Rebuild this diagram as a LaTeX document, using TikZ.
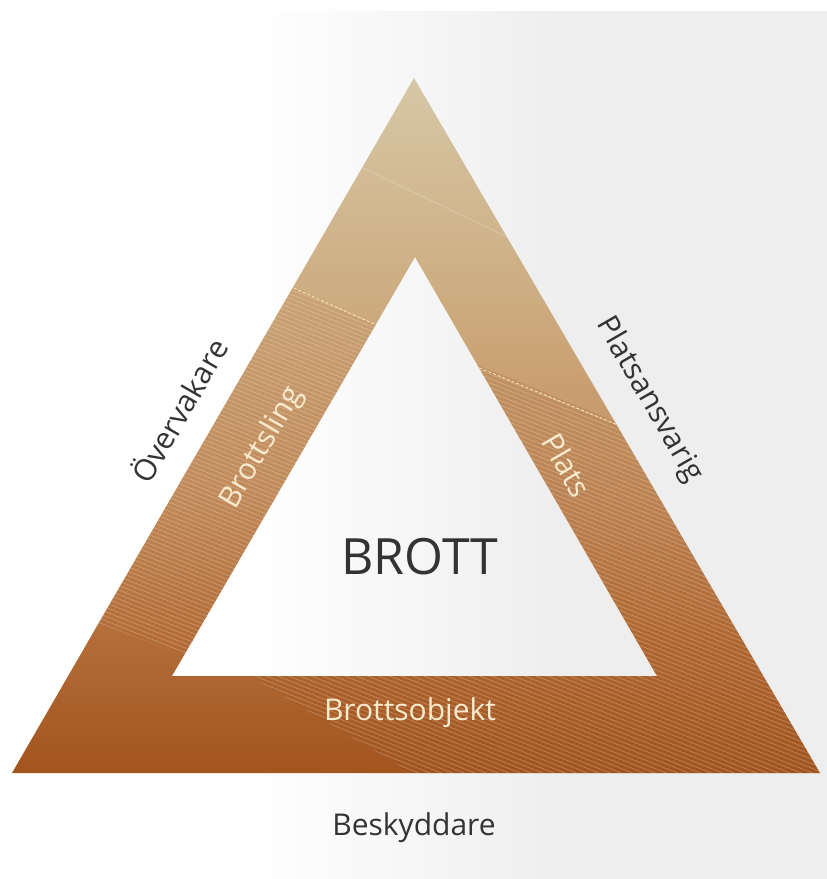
\documentclass[tikz,border=0pt]{standalone}
\usepackage{fontspec}
\setmainfont{Open Sans}
\definecolor{bggray}{RGB}{238,238,238}
\definecolor{tanA}{RGB}{214,199,166}
\definecolor{tanB}{RGB}{205,172,128}
\definecolor{tanC}{RGB}{195,142,94}
\definecolor{rustD}{RGB}{179,108,54}
\definecolor{rustE}{RGB}{162,84,30}
\definecolor{txtdark}{RGB}{51,51,51}
\definecolor{txtcream}{RGB}{248,234,206}
\definecolor{dashcream}{RGB}{250,228,180}

\begin{document}
\begin{tikzpicture}
  [x=1pt,y=-1pt,
   outtext/.style={text=txtdark,font=\fontsize{30}{36}\selectfont,inner sep=0pt},
   bandtext/.style={text=txtcream,font=\fontsize{30}{36}\selectfont,inner sep=0pt},
   stripe/.style={white,opacity=.26,line width=.7pt},
   seam/.style={dashcream,dash pattern=on 3pt off 2pt,line width=.9pt}]
  \useasboundingbox (0,0) rectangle (827,879);

  % background
  \fill[white] (0,0) rectangle (827,879);
  \shade[left color=white,right color=bggray] (250,11) rectangle (561,879);
  \fill[bggray] (560,11) rectangle (827,879);

  % corners of the two triangles
  \coordinate (o1) at (414,78);
  \coordinate (o2) at (12,773);
  \coordinate (o3) at (820,773);
  \coordinate (i1) at (415,257);
  \coordinate (i2) at (172,676);
  \coordinate (i3) at (657,676);
  % ends of the dashed seams
  \coordinate (sl1) at (280,282);
  \coordinate (sl2) at (392,332);
  \coordinate (sr1) at (470,364);
  \coordinate (sr2) at (630,430);

  \begin{scope}[even odd rule]
    \clip (o1) -- (o2) -- (o3) -- cycle (i1) -- (i2) -- (i3) -- cycle;
    \shade[top color=tanA,bottom color=tanB] (0,77) rectangle (827,301);
    \shade[top color=tanB,bottom color=tanC] (0,300) rectangle (827,501);
    \shade[top color=tanC,bottom color=rustD] (0,500) rectangle (827,641);
    \shade[top color=rustD,bottom color=rustE] (0,640) rectangle (827,775);
    % left striped part
    \begin{scope}
      \clip (240,264) -- (430,348) -- (215,668) -- (40,600) -- cycle;
      \fill[rustD,opacity=.15] (0,0) rectangle (827,879);
      \foreach \k in {0,...,280}
        \draw[stripe] (0,{-380+4.5*\k}) -- ++(900,360);
    \end{scope}
    % right and bottom striped part
    \begin{scope}
      \clip (445,351) -- (700,457) -- (900,800) -- (457,800) -- (250,676) -- (230,664) -- cycle;
      \fill[rustE,opacity=.2] (0,0) rectangle (827,879);
      \foreach \k in {0,...,280}
        \draw[stripe] (0,{-380+4.5*\k}) -- ++(900,360);
    \end{scope}
    \draw[white,opacity=.18,line width=1.2pt] (340,157) -- (520,243);
    \draw[seam] (sl1) -- (sl2);
    \draw[seam] (sr1) -- (sr2);
  \end{scope}

  % texts
  \node[outtext,rotate=60] (overvakare) at (178,410) {Övervakare};
  \node[bandtext,rotate=60] (brottsling) at (262,448) {Brottsling};
  \node[outtext,rotate=-60] (platsansvarig) at (649,400) {Platsansvarig};
  \node[bandtext,rotate=-60] (plats) at (567,465) {Plats};
  \node[text=txtdark,font=\fontsize{50}{60}\selectfont,inner sep=0pt] (brott) at (420,557) {BROTT};
  \node[bandtext] (brottsobjekt) at (410,713) {Brottsobjekt};
  \node[outtext] (beskyddare) at (414,828) {Beskyddare};
\end{tikzpicture}
\end{document}
